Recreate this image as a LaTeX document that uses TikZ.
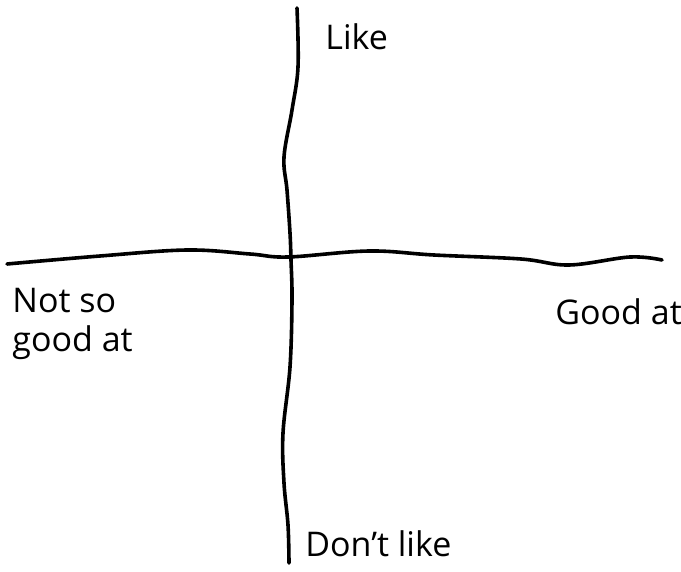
\documentclass[tikz,border=0pt]{standalone}
\usepackage{fontspec}
\setmainfont{Open Sans}
\usetikzlibrary{positioning}

\begin{document}
\begin{tikzpicture}[x=0.5pt, y=-0.5pt, every node/.style={align=left,inner sep=0pt,font=\fontsize{17}{19.5}\selectfont}, axis/.style={line width=1.8pt,line cap=round,line join=round}]
\useasboundingbox (0,0) rectangle (681,572);
\draw[axis] plot[smooth,tension=0.6] coordinates {(7,264) (100,256) (187,250) (250,254) (288,257) (369,251) (434,255) (521,259) (569,265) (630,257) (662,260)};
\draw[axis] plot[smooth,tension=0.6] coordinates {(297,8) (298,67) (292,110) (284,157) (287,190) (290,233) (291,260) (292,300) (290,367) (283,433) (284,483) (288,525) (289,563)};
\node[anchor=base west] (a) at (325,50) {Like};
\node[anchor=north west] (b) at (12,288) {Not so\\good at};
\node[anchor=base west] (c) at (555,325) {Good at};
\node[anchor=base west] (d) at (305,557) {Don't like};
\end{tikzpicture}
\end{document}
